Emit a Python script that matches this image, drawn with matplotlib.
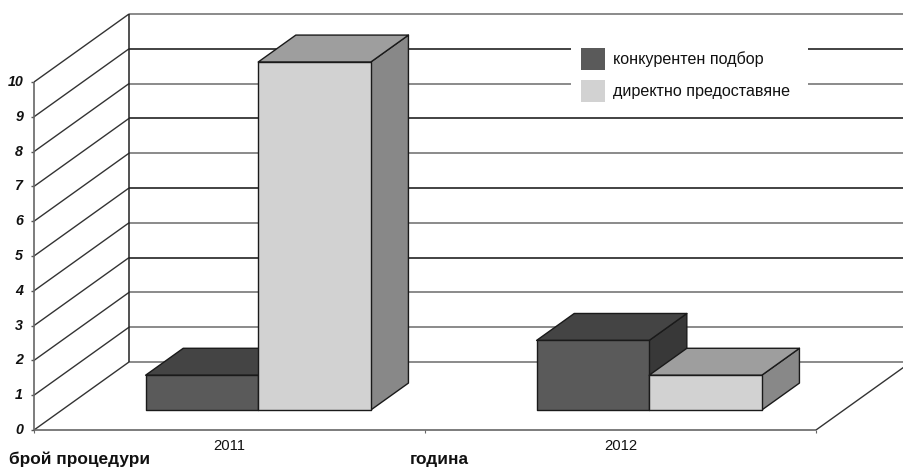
import matplotlib
matplotlib.use("Agg")
import matplotlib.pyplot as plt
from matplotlib.patches import Patch

plt.rcParams['font.family'] = ['Liberation Sans', 'DejaVu Sans']

years = ["2011", "2012"]
series_names = ["конкурентен подбор", "директно предоставяне"]
competitive = [1, 2]
direct = [10, 1]
value_ticks = list(range(0, 11))

# face colours of each series: front, top, side
dark_faces = ("#5a5a5a", "#444444", "#383838")
light_faces = ("#d2d2d2", "#9e9e9e", "#888888")

# oblique projection, one depth unit is the whole floor
DX = 95 / 391
DY = 68 / 34.8
BAR_W = 0.288
BAR_GAP = 0.214
BAR_D0 = 0.294
BAR_D1 = 0.69


def proj(x, v, d):
    return x + d * DX, v + d * DY


def draw_line(ax, a, b, color="#222222", lw=1.1, z=1):
    ax.plot([a[0], b[0]], [a[1], b[1]], color=color, lw=lw, zorder=z,
            solid_capstyle="butt")


def draw_box(ax, x, value, faces, z):
    pts = lambda *corners: list(zip(*[proj(*c) for c in corners]))
    x2 = x + BAR_W
    front = pts((x, 0, BAR_D0), (x2, 0, BAR_D0), (x2, value, BAR_D0), (x, value, BAR_D0))
    top = pts((x, value, BAR_D0), (x2, value, BAR_D0), (x2, value, BAR_D1), (x, value, BAR_D1))
    side = pts((x2, 0, BAR_D0), (x2, 0, BAR_D1), (x2, value, BAR_D1), (x2, value, BAR_D0))
    for poly, col in ((side, faces[2]), (top, faces[1]), (front, faces[0])):
        ax.fill(poly[0], poly[1], facecolor=col, edgecolor="#1a1a1a", lw=1.0,
                zorder=z, joinstyle="round")


fig = plt.figure(figsize=(9.04, 4.68), dpi=100)
ax = fig.add_axes([0, 0, 1, 1])
ax.set_xlim(-34 * 2 / 782, 870 * 2 / 782)
ax.set_ylim(-38 / 34.8, 430 / 34.8)
ax.axis("off")

n = len(years)

# walls and gridlines
for v in value_ticks:
    col = "#222222" if v % 2 == 1 and v > 1 else "#777777"
    draw_line(ax, proj(0, v, 1), proj(n, v, 1), color=col, lw=1.2)
    draw_line(ax, proj(0, v, 0), proj(0, v, 1), color="#333333", lw=1.0)
    draw_line(ax, (-0.008, v), (0, v), color="#555555", lw=1.0)
    ax.text(-0.028, v, str(v), ha="right", va="center", fontsize=10.3,
            fontweight="bold", fontstyle="italic", color="#111111")

draw_line(ax, proj(0, 0, 0), proj(0, 10, 0), color="#666666", lw=1.2)
draw_line(ax, proj(0, 0, 1), proj(0, 10, 1), color="#222222", lw=1.1)

# floor
draw_line(ax, (0, 0), (n, 0), color="#666666", lw=1.2)
draw_line(ax, proj(n, 0, 0), proj(n, 0, 1), color="#333333", lw=1.0)
for i in range(n + 1):
    draw_line(ax, (i, 0), (i, -0.09), color="#666666", lw=0.8)

# boxes, the lighter series goes over the darker one
for i in range(n):
    draw_box(ax, i + BAR_GAP, competitive[i], dark_faces, 3 + 2 * i)
    draw_box(ax, i + BAR_GAP + BAR_W, direct[i], light_faces, 4 + 2 * i)
    ax.text(i + 0.5, -0.46, years[i], ha="center", va="center", fontsize=10.7, color="#111111")

ax.text(-0.064, -0.97, "брой процедури", ha="left", va="baseline", fontsize=12.4,
        fontweight="bold", color="#111111")
ax.text(0.962, -0.97, "година", ha="left", va="baseline", fontsize=12.4,
        fontweight="bold", color="#111111")

handles = [Patch(facecolor=dark_faces[0], edgecolor="none"),
           Patch(facecolor=light_faces[0], edgecolor="none")]
leg = ax.legend(handles, series_names, loc="upper left", mode="expand",
                bbox_to_anchor=(571 / 904, 1 - 108 / 468, 237 / 904, 70 / 468), frameon=True,
                facecolor="white", edgecolor="none", framealpha=1, fancybox=False,
                fontsize=11.6, borderpad=0.6, borderaxespad=0,
                handlelength=1.5, handleheight=1.72, handletextpad=0.5, labelspacing=0.62)
leg.set_zorder(20)
for t in leg.get_texts():
    t.set_color("#111111")

fig.savefig("out.png", dpi=100)
